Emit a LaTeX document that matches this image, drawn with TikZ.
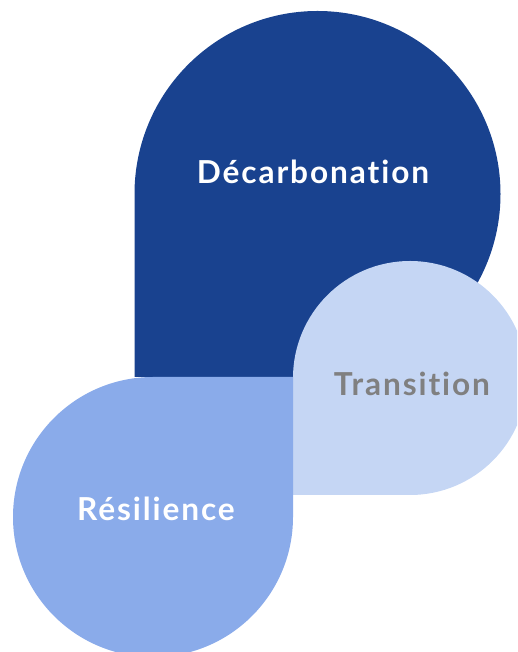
\documentclass[tikz,border=0pt]{standalone}
\usepackage{fontspec}
\setmainfont{Lato}[Ligatures={NoCommon}, LetterSpace=6]
\definecolor{decblue}{HTML}{19428F}
\definecolor{resblue}{HTML}{8AABEA}
\definecolor{trablue}{HTML}{C5D6F4}
\definecolor{tragray}{HTML}{808080}
\tikzset{lobe/.style={draw=none}}
\tikzset{lobetext/.style={anchor=base, inner sep=0pt, font=\fontsize{18}{20}\selectfont\bfseries}}

\begin{document}
\begin{tikzpicture}[x=0.02cm, y=0.02cm]

\useasboundingbox (0,0) rectangle (517,652);
\clip (0,0) rectangle (517,652);

% Decarbonation
\fill[lobe, decblue] (134.5,275) -- (134.5,458) arc[start angle=180, end angle=-90, radius=183] -- cycle;

% Transition
\fill[lobe, trablue] (293,157) -- (293,274) arc[start angle=180, end angle=-90, radius=117] -- cycle;

% Resilience
\fill[lobe, resblue] (293,275) -- (293,135) arc[start angle=0, end angle=-270, radius=140] -- cycle;

\node[lobetext, text=white] (dec) at (313,468) {Décarbonation};
\node[lobetext, text=tragray] (tra) at (412,256) {Transition};
\node[lobetext, text=white] (res) at (156,131) {Résilience};

\end{tikzpicture}
\end{document}
